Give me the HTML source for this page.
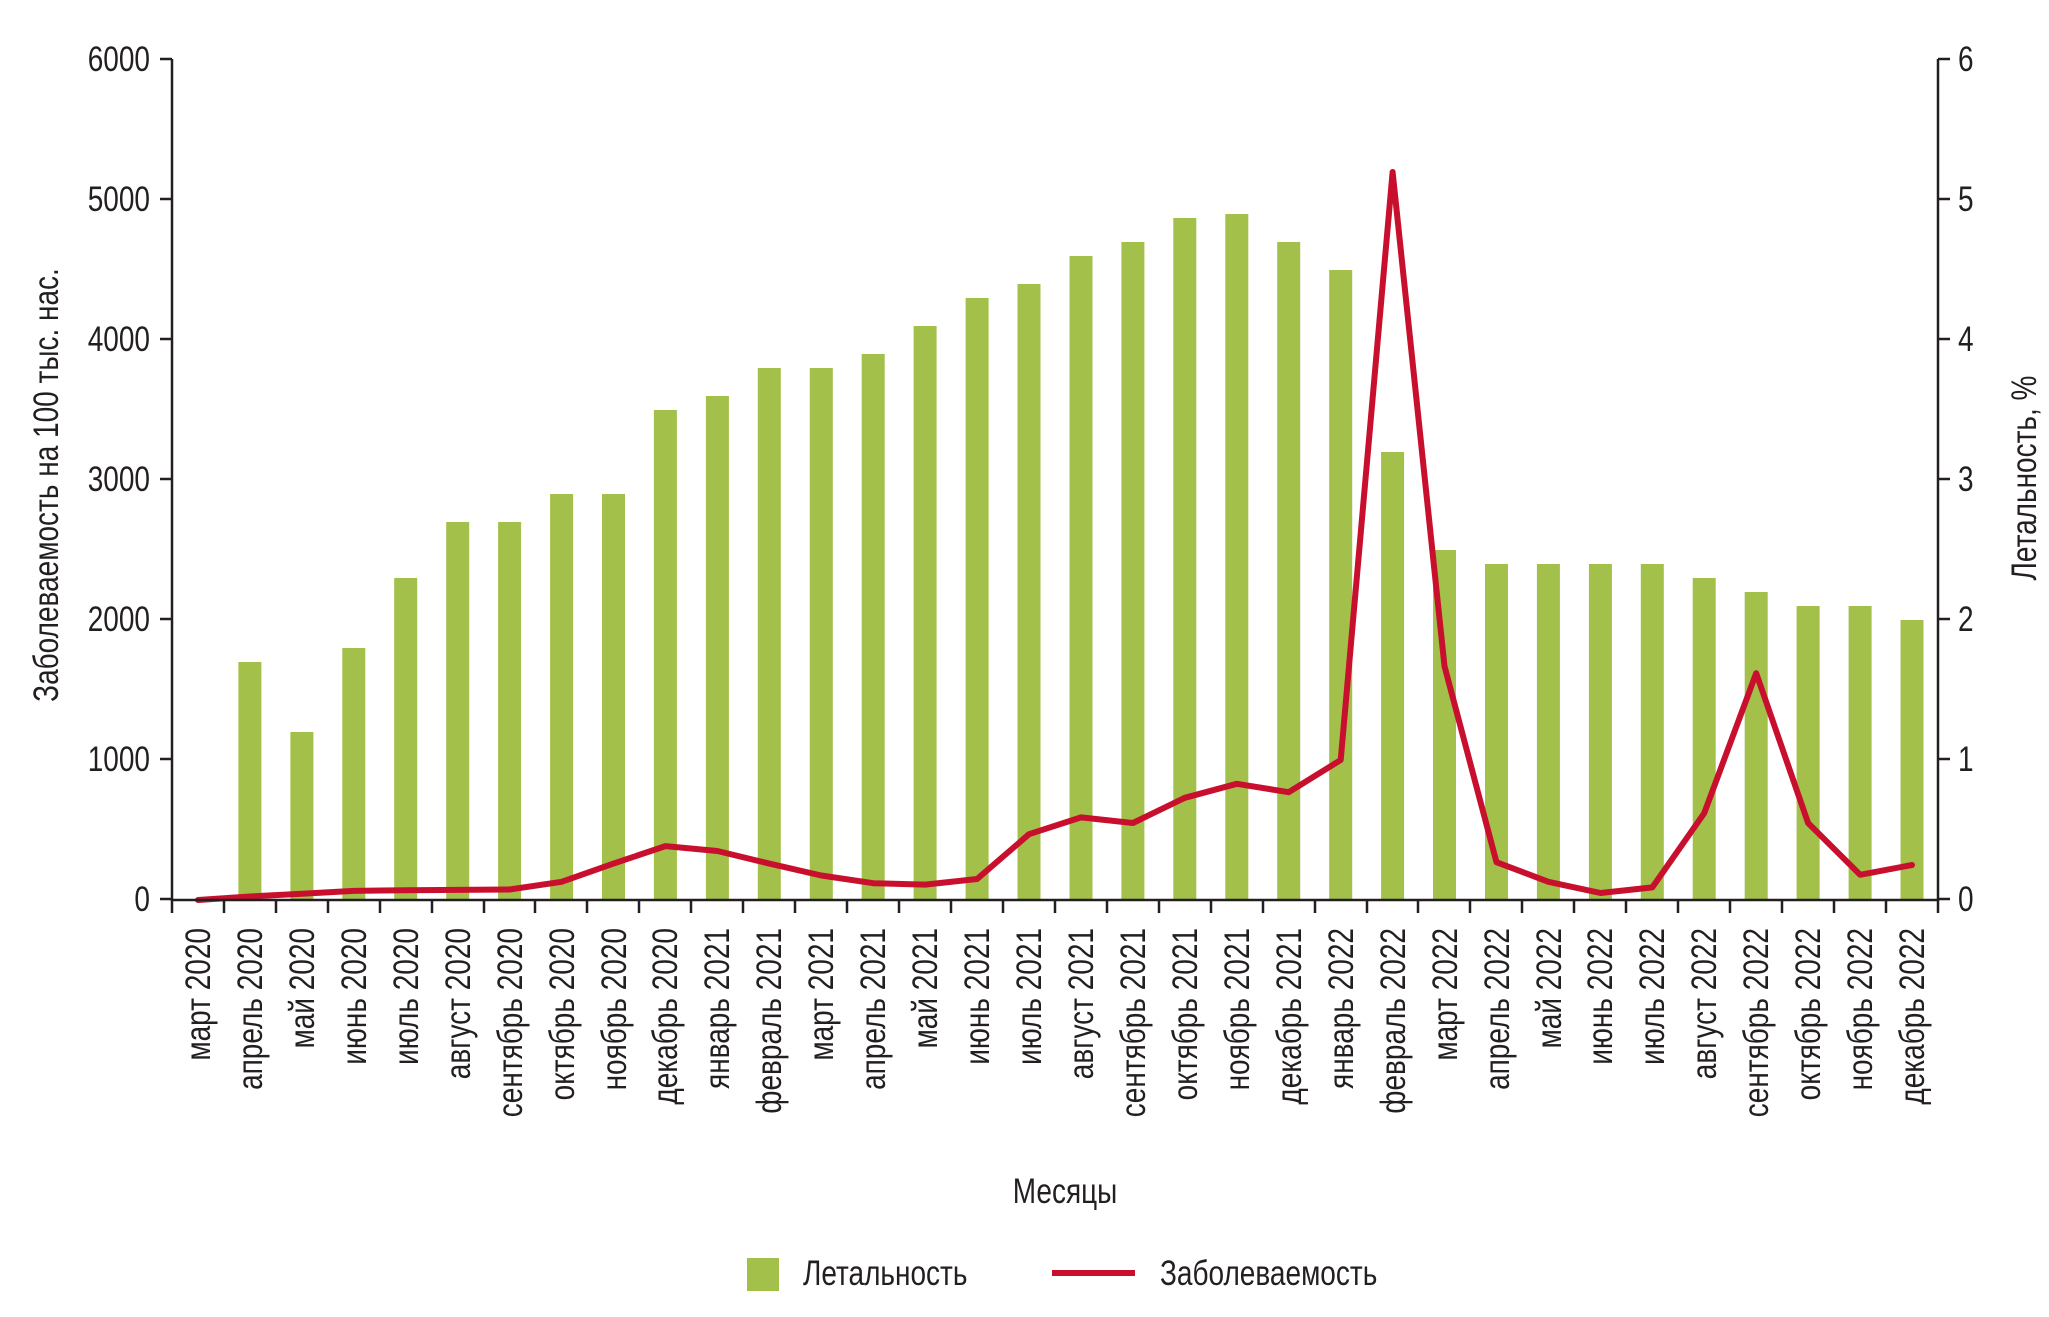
<!DOCTYPE html>
<html><head><meta charset="utf-8"><style>
html,body{margin:0;padding:0;background:#fff;}
svg text{font-family:"Liberation Sans","DejaVu Sans",sans-serif;fill:#231f20;font-size:35px;}
</style></head><body>
<svg width="2049" height="1312" viewBox="0 0 2049 1312" xmlns="http://www.w3.org/2000/svg">
<g fill="#a3c04a">
<rect x="238.4" y="662" width="23" height="238"/>
<rect x="290.4" y="732" width="23" height="168"/>
<rect x="342.3" y="648" width="23" height="252"/>
<rect x="394.2" y="578" width="23" height="322"/>
<rect x="446.2" y="522" width="23" height="378"/>
<rect x="498.1" y="522" width="23" height="378"/>
<rect x="550.1" y="494" width="23" height="406"/>
<rect x="602" y="494" width="23" height="406"/>
<rect x="653.9" y="410" width="23" height="490"/>
<rect x="705.9" y="396" width="23" height="504"/>
<rect x="757.8" y="368" width="23" height="532"/>
<rect x="809.8" y="368" width="23" height="532"/>
<rect x="861.7" y="354" width="23" height="546"/>
<rect x="913.6" y="326" width="23" height="574"/>
<rect x="965.6" y="298" width="23" height="602"/>
<rect x="1017.5" y="284" width="23" height="616"/>
<rect x="1069.5" y="256" width="23" height="644"/>
<rect x="1121.4" y="242" width="23" height="658"/>
<rect x="1173.3" y="218" width="23" height="682"/>
<rect x="1225.3" y="214" width="23" height="686"/>
<rect x="1277.2" y="242" width="23" height="658"/>
<rect x="1329.2" y="270" width="23" height="630"/>
<rect x="1381.1" y="452" width="23" height="448"/>
<rect x="1433" y="550" width="23" height="350"/>
<rect x="1485" y="564" width="23" height="336"/>
<rect x="1536.9" y="564" width="23" height="336"/>
<rect x="1588.9" y="564" width="23" height="336"/>
<rect x="1640.8" y="564" width="23" height="336"/>
<rect x="1692.7" y="578" width="23" height="322"/>
<rect x="1744.7" y="592" width="23" height="308"/>
<rect x="1796.6" y="606" width="23" height="294"/>
<rect x="1848.6" y="606" width="23" height="294"/>
<rect x="1900.5" y="620" width="23" height="280"/>
</g>
<polyline fill="none" stroke="#c8102e" stroke-width="6" stroke-linejoin="round" stroke-linecap="round" points="198,900 249.9,896.5 301.9,893.7 353.8,890.9 405.7,890.2 457.7,889.9 509.6,889.5 561.6,881.8 613.5,863.6 665.4,846.1 717.4,851 769.3,863.6 821.3,875.5 873.2,883.2 925.1,884.6 977.1,879 1029,834.2 1081,817.4 1132.9,823 1184.8,797.8 1236.8,783.8 1288.7,792.2 1340.7,760 1392.6,172 1444.5,666.2 1496.5,862.2 1548.4,881.8 1600.4,893 1652.3,887.4 1704.2,813.2 1756.2,673.2 1808.1,823 1860.1,874.8 1912,865"/>
<g stroke="#231f20" stroke-width="2.5" fill="none">
<path d="M172,59V900H1938V59"/>
<path d="M160,59H172M160,199H172M160,339H172M160,479H172M160,619H172M160,759H172M160,899H172"/>
<path d="M1938,59H1950M1938,199H1950M1938,339H1950M1938,479H1950M1938,619H1950M1938,759H1950M1938,899H1950"/>
<path d="M172,900V913M224,900V913M276,900V913M328,900V913M380,900V913M432,900V913M484,900V913M535,900V913M587,900V913M639,900V913M691,900V913M743,900V913M795,900V913M847,900V913M899,900V913M951,900V913M1003,900V913M1055,900V913M1107,900V913M1159,900V913M1211,900V913M1263,900V913M1315,900V913M1367,900V913M1418,900V913M1470,900V913M1522,900V913M1574,900V913M1626,900V913M1678,900V913M1730,900V913M1782,900V913M1834,900V913M1886,900V913M1938,900V913"/>
</g>
<g text-anchor="end">
<text transform="translate(150,71) scale(0.8,1)">6000</text>
<text transform="translate(150,211) scale(0.8,1)">5000</text>
<text transform="translate(150,351) scale(0.8,1)">4000</text>
<text transform="translate(150,491) scale(0.8,1)">3000</text>
<text transform="translate(150,631) scale(0.8,1)">2000</text>
<text transform="translate(150,771) scale(0.8,1)">1000</text>
<text transform="translate(150,911) scale(0.8,1)">0</text>
</g>
<g>
<text transform="translate(1958,71) scale(0.8,1)">6</text>
<text transform="translate(1958,211) scale(0.8,1)">5</text>
<text transform="translate(1958,351) scale(0.8,1)">4</text>
<text transform="translate(1958,491) scale(0.8,1)">3</text>
<text transform="translate(1958,631) scale(0.8,1)">2</text>
<text transform="translate(1958,771) scale(0.8,1)">1</text>
<text transform="translate(1958,911) scale(0.8,1)">0</text>
</g>
<g text-anchor="end">
<text transform="translate(210,928) rotate(-90) scale(0.8,1)">март 2020</text>
<text transform="translate(262,928) rotate(-90) scale(0.8,1)">апрель 2020</text>
<text transform="translate(314,928) rotate(-90) scale(0.8,1)">май 2020</text>
<text transform="translate(366,928) rotate(-90) scale(0.8,1)">июнь 2020</text>
<text transform="translate(418,928) rotate(-90) scale(0.8,1)">июль 2020</text>
<text transform="translate(470,928) rotate(-90) scale(0.8,1)">август 2020</text>
<text transform="translate(522,928) rotate(-90) scale(0.8,1)">сентябрь 2020</text>
<text transform="translate(574,928) rotate(-90) scale(0.8,1)">октябрь 2020</text>
<text transform="translate(626,928) rotate(-90) scale(0.8,1)">ноябрь 2020</text>
<text transform="translate(677,928) rotate(-90) scale(0.8,1)">декабрь 2020</text>
<text transform="translate(729,928) rotate(-90) scale(0.8,1)">январь 2021</text>
<text transform="translate(781,928) rotate(-90) scale(0.8,1)">февраль 2021</text>
<text transform="translate(833,928) rotate(-90) scale(0.8,1)">март 2021</text>
<text transform="translate(885,928) rotate(-90) scale(0.8,1)">апрель 2021</text>
<text transform="translate(937,928) rotate(-90) scale(0.8,1)">май 2021</text>
<text transform="translate(989,928) rotate(-90) scale(0.8,1)">июнь 2021</text>
<text transform="translate(1041,928) rotate(-90) scale(0.8,1)">июль 2021</text>
<text transform="translate(1093,928) rotate(-90) scale(0.8,1)">август 2021</text>
<text transform="translate(1145,928) rotate(-90) scale(0.8,1)">сентябрь 2021</text>
<text transform="translate(1197,928) rotate(-90) scale(0.8,1)">октябрь 2021</text>
<text transform="translate(1249,928) rotate(-90) scale(0.8,1)">ноябрь 2021</text>
<text transform="translate(1301,928) rotate(-90) scale(0.8,1)">декабрь 2021</text>
<text transform="translate(1353,928) rotate(-90) scale(0.8,1)">январь 2022</text>
<text transform="translate(1405,928) rotate(-90) scale(0.8,1)">февраль 2022</text>
<text transform="translate(1457,928) rotate(-90) scale(0.8,1)">март 2022</text>
<text transform="translate(1509,928) rotate(-90) scale(0.8,1)">апрель 2022</text>
<text transform="translate(1561,928) rotate(-90) scale(0.8,1)">май 2022</text>
<text transform="translate(1612,928) rotate(-90) scale(0.8,1)">июнь 2022</text>
<text transform="translate(1664,928) rotate(-90) scale(0.8,1)">июль 2022</text>
<text transform="translate(1716,928) rotate(-90) scale(0.8,1)">август 2022</text>
<text transform="translate(1768,928) rotate(-90) scale(0.8,1)">сентябрь 2022</text>
<text transform="translate(1820,928) rotate(-90) scale(0.8,1)">октябрь 2022</text>
<text transform="translate(1872,928) rotate(-90) scale(0.8,1)">ноябрь 2022</text>
<text transform="translate(1924,928) rotate(-90) scale(0.8,1)">декабрь 2022</text>
</g>
<g text-anchor="middle">
<text transform="translate(58,485) rotate(-90) scale(0.8,1)">Заболеваемость на 100 тыс. нас.</text>
<text transform="translate(2036,478) rotate(-90) scale(0.8,1)">Летальность, %</text>
<text transform="translate(1065,1203) scale(0.8,1)">Месяцы</text>
</g>
<rect x="747" y="1258" width="32" height="33" fill="#a3c04a"/>
<text transform="translate(803,1285) scale(0.8,1)">Летальность</text>
<line x1="1052" y1="1273" x2="1135" y2="1273" stroke="#c8102e" stroke-width="6"/>
<text transform="translate(1160,1285) scale(0.8,1)">Заболеваемость</text>
</svg>
</body></html>
